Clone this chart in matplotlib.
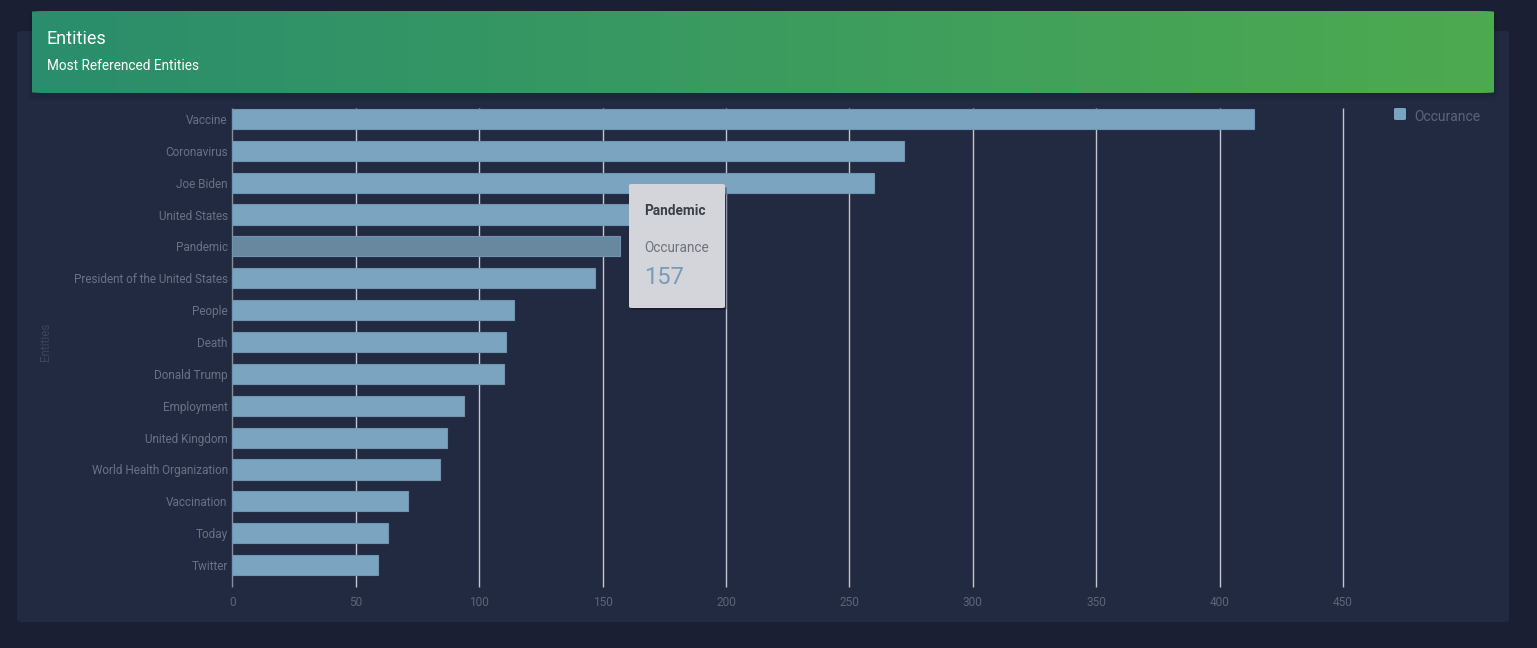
import numpy as np
import matplotlib
matplotlib.use("Agg")
import matplotlib.pyplot as plt
from matplotlib.patches import FancyBboxPatch

plt.rcParams['font.family'] = ['Roboto', 'DejaVu Sans']

entities = ["Vaccine", "Coronavirus", "Joe Biden", "United States", "Pandemic",
            "President of the United States", "People", "Death", "Donald Trump",
            "Employment", "United Kingdom", "World Health Organization",
            "Vaccination", "Today", "Twitter"]
occurance = [414, 272, 260, 168, 157, 147, 114, 111, 110, 94, 87, 84, 71, 63, 59]
x_ticks = [0, 50, 100, 150, 200, 250, 300, 350, 400, 450]
hovered = "Pandemic"

W, H = 1537, 648
fig = plt.figure(figsize=(W / 100, H / 100), dpi=100)
fig.patch.set_facecolor("#1b1f33")


def fx(x):
    return x / W


def fy(y):
    return 1 - y / H


def box(x0, y0, x1, y1, color, r=4, z=0, **kw):
    p = FancyBboxPatch((fx(x0), fy(y1)), fx(x1) - fx(x0), fy(y0) - fy(y1),
                       boxstyle="round,pad=0,rounding_size=%f" % (r / W),
                       transform=fig.transFigure, facecolor=color,
                       edgecolor="none", zorder=z, **kw)
    fig.patches.append(p)
    return p


# card
box(17, 31, 1509, 622, "#222a42", r=5, z=-5)

# chart
ax_top, ax_bot = 103, 581
ax = fig.add_axes([fx(232.5), fy(ax_bot), fx(1343) - fx(232.5), fy(ax_top) - fy(ax_bot)], zorder=1)
ax.set_facecolor("none")
ypos = np.arange(len(entities))
colors = ["#67889f" if e == hovered else "#7ba4c0" for e in entities]
ax.barh(ypos, occurance, height=0.63, color=colors, edgecolor="#6f95b0",
        linewidth=0.8, zorder=3)
ax.set_ylim(len(entities) - 0.5, -0.5)
ax.set_xlim(0, 450)
ax.set_xticks(x_ticks)
ax.set_yticks(ypos)
ax.set_yticklabels(entities)
# grid lines running down into tick marks
gtop = (ax_bot - 108) / (ax_bot - ax_top)
gbot = -6 / (ax_bot - ax_top)
grid_colors = ["#8a8d96"] + ["#c4c6cc"] * (len(x_ticks) - 1)
ax.vlines(x_ticks, gbot, gtop, colors=grid_colors, linewidth=1,
          transform=ax.get_xaxis_transform(), clip_on=False, zorder=1)
for s in ax.spines.values():
    s.set_visible(False)
ax.tick_params(axis="x", length=0, labelcolor="#5d6474", labelsize=8.6, pad=11)
ax.tick_params(axis="y", length=0, labelcolor="#6b7182", labelsize=8.5, pad=3.5)
fig.text(fx(45), fy(342), "Entities", rotation=90, color="#3a445c",
         fontsize=8.5, ha="center", va="center")

# legend
box(1394, 108, 1406, 120, "#7ba4c0", r=2.5, z=5)
fig.text(fx(1414), fy(117), "Occurance", color="#5d6474", fontsize=10,
         ha="left", va="center")

# header shadow + gradient
for i, a in enumerate([0.04, 0.05, 0.06, 0.07]):
    box(32 - 4 + i, 11 + 4 - i, 1494 + 4 - i, 93 + 8 - 2 * i, "#0d1a1a", r=6, z=6, alpha=a)
gax = fig.add_axes([fx(32), fy(93), fx(1494) - fx(32), fy(11) - fy(93)], zorder=8)
grad = np.linspace(0, 1, 256).reshape(1, -1)
c0 = np.array([0x2a, 0x8d, 0x6d]) / 255
c1 = np.array([0x4d, 0xaa, 0x50]) / 255
img = c0[None, None, :] * (1 - grad[..., None]) + c1[None, None, :] * grad[..., None]
im = gax.imshow(img, aspect="auto", extent=[0, 1, 0, 1])
gax.set_axis_off()
clip = FancyBboxPatch((0, 0), 1, 1, boxstyle="round,pad=0,rounding_size=0.01",
                      transform=gax.transAxes, facecolor="none", edgecolor="none")
gax.add_patch(clip)
im.set_clip_path(clip)
fig.text(fx(47), fy(39), "Entities", color="white", fontsize=13, ha="left",
         va="center", zorder=10)
fig.text(fx(47), fy(65.5), "Most Referenced Entities", color="white", fontsize=9.8,
         ha="left", va="center", zorder=10)

# tooltip
box(631, 187, 727, 310, "#000000", r=3, z=11, alpha=0.25)
box(629, 184, 725, 308, "#d3d5db", r=3, z=12)
fig.text(fx(644), fy(211), "Pandemic", color="#3b3f48", fontsize=9.8,
         fontweight="bold", ha="left", va="center", zorder=13)
fig.text(fx(644), fy(247.5), "Occurance", color="#6f737c", fontsize=9.8,
         ha="left", va="center", zorder=13)
fig.text(fx(644), fy(277), "157", color="#7a9bb5", fontsize=17,
         ha="left", va="center", zorder=13)

fig.savefig("out.png", dpi=100, facecolor=fig.get_facecolor())
